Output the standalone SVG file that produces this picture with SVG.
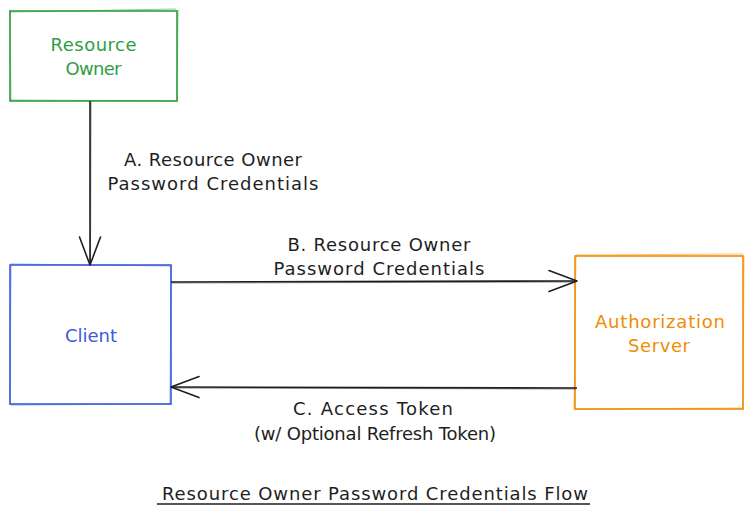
<svg xmlns="http://www.w3.org/2000/svg" width="753" height="516" viewBox="0 0 753 516">
  <defs>
    <style>
      .lbl { font-family: "DejaVu Sans", "Liberation Sans", sans-serif; font-size: 18px; fill: #1e1e1e; text-anchor: middle; dominant-baseline: central; }
      .node-text { font-family: "DejaVu Sans", "Liberation Sans", sans-serif; font-size: 18px; text-anchor: middle; dominant-baseline: central; }
      .box { fill: #ffffff; stroke-width: 1.6; }
      .sketch { fill: none; stroke-width: 1; opacity: 0.55; }
      .edge { fill: none; stroke: #1e1e1e; stroke-width: 1.6; }
      .edge2 { fill: none; stroke: #1e1e1e; stroke-width: 1; opacity: 0.5; }
    </style>
    <marker id="arrow" markerUnits="userSpaceOnUse" markerWidth="32" markerHeight="26" viewBox="-30 -13 32 26" refX="0" refY="0" orient="auto">
      <path d="M -28 -10.5 L 0 0 L -28 10.5" fill="none" stroke="#1e1e1e" stroke-width="1.6" stroke-linecap="round" stroke-linejoin="round"/>
    </marker>
  </defs>
  <rect width="753" height="516" fill="#ffffff"/>

  <g id="resource-owner">
    <rect class="box" x="10" y="11" width="167" height="90" stroke="#2f9e44"/>
    <path class="sketch" stroke="#2f9e44" d="M 9 12 L 176 9 M 178 10 L 177 102 M 176 101 L 10 100 M 11 101 L 10 10"/>
    <text class="node-text" fill="#2f9e44" x="93.5" y="44" textLength="86" lengthAdjust="spacing">Resource</text>
    <text class="node-text" fill="#2f9e44" x="93.5" y="68" textLength="56" lengthAdjust="spacing">Owner</text>
  </g>

  <g id="client">
    <rect class="box" x="10" y="265" width="161" height="139" stroke="#3b5bdb"/>
    <path class="sketch" stroke="#3b5bdb" d="M 11 264 L 172 266 M 171 265 L 170 405 M 171 404 L 11 405 M 10 405 L 11 264"/>
    <text class="node-text" fill="#3b5bdb" x="91" y="335" textLength="52" lengthAdjust="spacing">Client</text>
  </g>

  <g id="authorization-server">
    <rect class="box" x="575" y="256" width="168" height="153" stroke="#f08c00"/>
    <path class="sketch" stroke="#f08c00" d="M 576 255 L 743 254 M 744 256 L 743 410 M 744 408 L 575 409 M 574 410 L 576 255"/>
    <text class="node-text" fill="#f08c00" x="660" y="321" textLength="130" lengthAdjust="spacing">Authorization</text>
    <text class="node-text" fill="#f08c00" x="659" y="345" textLength="62" lengthAdjust="spacing">Server</text>
  </g>

  <g id="connectors">
    <path class="edge" d="M 90 101 L 90 265" marker-end="url(#arrow)"/>
    <path class="edge2" d="M 91 102 L 90.5 262"/>
    <path class="edge" d="M 171 282 L 577 281" marker-end="url(#arrow)"/>
    <path class="edge2" d="M 172 283 L 574 282"/>
    <path class="edge" d="M 577 388 L 171 387" marker-end="url(#arrow)"/>
    <path class="edge2" d="M 576 389 L 174 388"/>
  </g>

  <g id="labels">
    <text class="lbl" x="213" y="159" textLength="178" lengthAdjust="spacing">A. Resource Owner</text>
    <text class="lbl" x="213" y="183" textLength="211" lengthAdjust="spacing">Password Credentials</text>
    <text class="lbl" x="379" y="244" textLength="183" lengthAdjust="spacing">B. Resource Owner</text>
    <text class="lbl" x="379" y="268" textLength="211" lengthAdjust="spacing">Password Credentials</text>
    <text class="lbl" x="373" y="408" textLength="160" lengthAdjust="spacing">C. Access Token</text>
    <text class="lbl" x="375" y="433" textLength="242" lengthAdjust="spacing">(w/ Optional Refresh Token)</text>
  </g>

  <g id="title">
    <text class="lbl" x="375" y="493" textLength="426" lengthAdjust="spacing">Resource Owner Password Credentials Flow</text>
    <path class="edge" d="M 157 504 L 590 504"/>
  </g>
</svg>
